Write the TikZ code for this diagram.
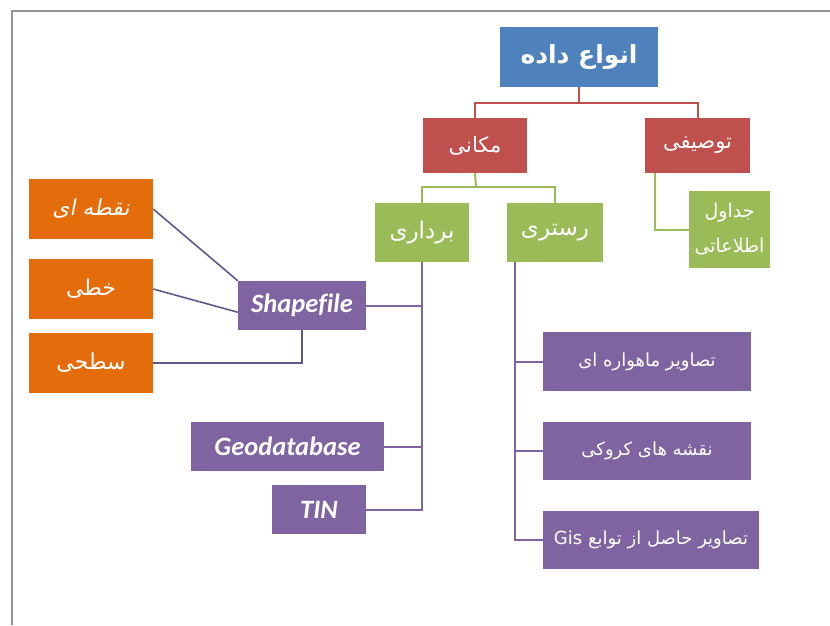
\documentclass[tikz,border=0pt]{standalone}
\usepackage{fontspec}
\setmainfont{Carlito}[Ligatures=NoCommon]
\newfontfamily\fa[Script=Arabic]{DejaVu Sans}
\newfontfamily\faslant[Script=Arabic,FakeSlant=0.18]{DejaVu Sans}
\TeXXeTstate=1
\newcommand{\fatxt}[1]{\beginR#1\endR}
\definecolor{boxblue}{HTML}{4F81BD}
\definecolor{boxred}{HTML}{C0504D}
\definecolor{boxgreen}{HTML}{9BBB59}
\definecolor{boxpurple}{HTML}{8064A2}
\definecolor{boxorange}{HTML}{E46C0A}
\definecolor{lineslate}{HTML}{5F5A8C}

\begin{document}
\begin{tikzpicture}[x=1pt, y=-1pt,
  box/.style={text=white, inner sep=2pt, align=center, font=\fa\fontsize{18}{26}\selectfont},
  bluebox/.style={box, fill=boxblue, font=\fa\bfseries\fontsize{25}{28}\selectfont},
  redbox/.style={box, fill=boxred, font=\fa\fontsize{21}{26}\selectfont},
  greenbox/.style={box, fill=boxgreen, font=\fa\fontsize{23}{26}\selectfont},
  purplebox/.style={box, fill=boxpurple},
  orangebox/.style={box, fill=boxorange, minimum width=124, minimum height=60, font=\fa\fontsize{22}{26}\selectfont},
  latin/.style={font=\bfseries\itshape\fontsize{26.5}{30}\selectfont},
  redline/.style={boxred, line width=2pt},
  greenline/.style={boxgreen, line width=2pt},
  purpleline/.style={boxpurple, line width=2pt},
  slateline/.style={lineslate, line width=1.6pt}]

  \useasboundingbox (0,0) rectangle (830,625);
  \fill[white] (0,0) rectangle (830,625);
  \draw[gray!85, line width=2pt] (830,11) -- (12,11) -- (12,625);

  \node[bluebox, minimum width=158, minimum height=60] (root) at (579,57) {\fatxt{انواع داده}};

  \node[redbox, minimum width=104, minimum height=55] (makani) at (475,145.5) {\fatxt{مکانی}};
  \node[redbox, minimum width=105, minimum height=55] (tosifi) at (697.5,145.5) {\fatxt{توصیفی}};

  \node[greenbox, minimum width=94, minimum height=59] (bardari) at (422,232.5) {\fatxt{برداری}};
  \node[greenbox, minimum width=96, minimum height=59] (rastri) at (555,232.5) {\fatxt{رستری}};
  \node[greenbox, minimum width=81, minimum height=77, font=\fa\fontsize{19}{35}\selectfont] (jadval) at (729.5,229.5) {\fatxt{جداول}\\\fatxt{اطلاعاتی}};

  \node[purplebox, latin, minimum width=128, minimum height=49] (shp) at (302,305.5) {Shapefile};
  \node[purplebox, latin, minimum width=193, minimum height=49] (geo) at (287.5,446.5) {Geodatabase};
  \node[purplebox, latin, minimum width=94, minimum height=49] (tin) at (319,509.5) {TIN};

  \node[orangebox, font=\faslant\fontsize{22}{26}\selectfont] (noghte) at (91,209) {\fatxt{نقطه ای}};
  \node[orangebox] (khati) at (91,289) {\fatxt{خطی}};
  \node[orangebox] (sathi) at (91,363) {\fatxt{سطحی}};

  \node[purplebox, minimum width=208, minimum height=59] (sat) at (647,361.5) {\fatxt{تصاویر ماهواره ای}};
  \node[purplebox, minimum width=208, minimum height=58] (kro) at (647,451) {\fatxt{نقشه های کروکی}};
  \node[purplebox, minimum width=216, minimum height=58] (gis) at (651,540) {\fatxt{تصاویر حاصل از توابع \beginL Gis\endL}};

  \coordinate (redbus) at (579,103);
  \coordinate (greenbus) at (476,187);
  \coordinate (rastrileg) at (515,262);

  \draw[redline] (root.south) -- (redbus);
  \draw[redline] (makani.north) |- (redbus) -| (tosifi.north);

  \draw[greenline] (makani.south) -- (greenbus);
  \draw[greenline] (bardari.north) |- (greenbus) -| (rastri.north);
  \draw[greenline] ([xshift=10pt]tosifi.south west) |- (jadval.west);

  \foreach \n in {shp,geo,tin} \draw[purpleline] (bardari.south) |- (\n.east);
  \foreach \n in {sat,kro,gis} \draw[purpleline] (rastrileg) |- (\n.west);

  \draw[slateline] (noghte.east) -- (shp.north west);
  \draw[slateline] (khati.east) -- (shp.186);
  \draw[slateline] (sathi.east) -| (shp.south);
\end{tikzpicture}
\end{document}
